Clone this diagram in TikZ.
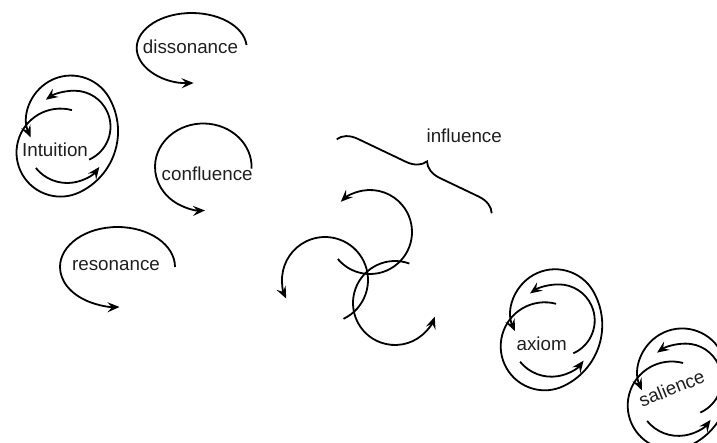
\documentclass[tikz,border=0pt]{standalone}
\usepackage{fontspec}
\setmainfont{Liberation Sans}
\usetikzlibrary{arrows.meta,decorations.pathreplacing}
\tikzset{
  swirl/.style={line width=1.8pt,-{Stealth[length=12pt,width=10pt,inset=4.5pt]}},
  bare/.style={line width=1.8pt},
  word/.style={font=\fontsize{18.8}{22}\selectfont,text=black!88,inner sep=0pt}
}
\begin{document}
\begin{tikzpicture}[x=1pt,y=1pt]
\clip (0,0) rectangle (717,-442);
% words
\node[word] (dissonance) at (190.5,-46.7) {dissonance};
\node[word] (confluence) at (207.2,-173.3) {confluence};
\node[word] (resonance) at (116,-266) {resonance};
\node[word] (intuition) at (55,-150) {Intuition};
\node[word] (influence) at (464.2,-136) {influence};
\node[word] (axiom) at (541.7,-343.3) {axiom};
\node[word,rotate=22] (salience) at (671.7,-388.3) {salience};
% single swirls
\draw[swirl] (191.7,-48) ++(5:55 and 35) arc [start angle=5, end angle=272, x radius=55, y radius=35];
\draw[swirl] (203.3,-167) ++(-2:48.3 and 43.5) arc [start angle=-2, end angle=272, x radius=48.3, y radius=43.5];
\draw[swirl] (117.5,-267) ++(0:57.5 and 40) arc [start angle=0, end angle=272, x radius=57.5, y radius=40];
% double cycles
\foreach \cx/\cy in {57.5/-149.6, 541.7/-343.3, 668.7/-402.5} {
\begin{scope}[shift={(\cx,\cy)}]
\draw[swirl] (9.7,6.9) ++(219:40.3) arc [start angle=219, end angle=323, radius=40.3];
\draw[swirl] (17,22.9) ++(-66:36) arc [start angle=-66, end angle=90, radius=36]
  arc [start angle=90, end angle=125, radius=50];
\draw[swirl] (3,-3) ++(75:44) arc [start angle=75, end angle=295, radius=44]
  arc [start angle=295, end angle=390, radius=67.5]
  arc [start angle=390, end angle=564, radius=44];
\end{scope}
}
% influence
\coordinate (bl) at (336.7,-139.3);
\coordinate (br) at (491.7,-213.3);
\draw[bare,decorate,decoration={brace,amplitude=19pt,aspect=0.53}] (bl) -- (br);
\draw[swirl] (370,-232) ++(220:42) arc [start angle=220, end angle=494, radius=42];
\draw[swirl] (325,-280) ++(-64.5:43) arc [start angle=-64.5, end angle=205.6, radius=43];
\draw[swirl] (395,-303) ++(70:42) arc [start angle=70, end angle=341, radius=42];
\end{tikzpicture}
\end{document}
